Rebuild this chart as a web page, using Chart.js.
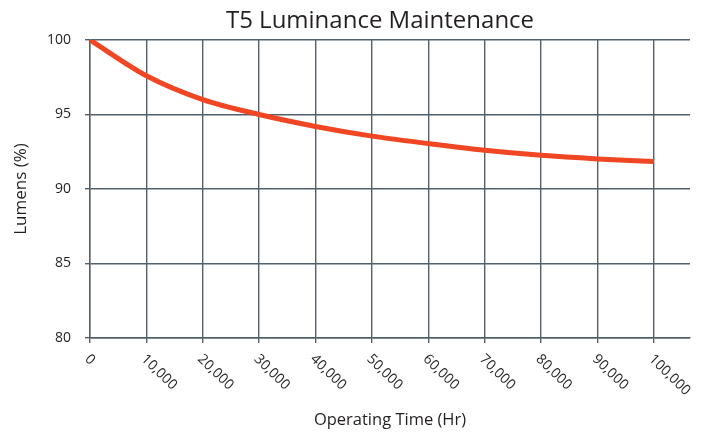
<!DOCTYPE html>
<html>
<head>
<meta charset="utf-8">
<script src="https://cdn.jsdelivr.net/npm/chart.js@4/dist/chart.umd.min.js"></script>
<style>
  html, body { margin: 0; padding: 0; background: #fff; }
  #wrap { width: 703px; height: 432px; }
</style>
</head>
<body>
<div id="wrap"><canvas id="lumen-chart"></canvas></div>
<script>
var hours = [0, 10000, 20000, 30000, 40000, 50000, 60000, 70000, 80000, 90000, 100000];
var lumens = [100, 97.6, 96.0, 95.0, 94.2, 93.55, 93.05, 92.6, 92.26, 92.02, 91.84];
var xTicks = [0, 10000, 20000, 30000, 40000, 50000, 60000, 70000, 80000, 90000, 100000];
var yTicks = [80, 85, 90, 95, 100];

var chartTitle = 'T5 Luminance Maintenance';
var gridColor = '#52606b';
var textColor = '#231f20';
var fontName = '"Open Sans", "Noto Sans", sans-serif';

// title + slanted x labels
var extras = {
    id: 'extras',
    afterDraw: function (chart) {
        var ctx = chart.ctx;
        var area = chart.chartArea;
        var x = chart.scales.x;
        ctx.save();
        ctx.fillStyle = textColor;
        ctx.font = '24px ' + fontName;
        ctx.textAlign = 'center';
        ctx.textBaseline = 'middle';
        ctx.fillText(chartTitle, (area.left + area.right) / 2 - 10, 21);

        ctx.font = '14px ' + fontName;
        ctx.textAlign = 'left';
        x.ticks.forEach(function (t) {
            var px = x.getPixelForValue(t.value);
            ctx.save();
            ctx.translate(px - 3, 357);
            ctx.rotate(44 * Math.PI / 180);
            ctx.fillText(t.value.toLocaleString('en-US'), 0, 0);
            ctx.restore();
        });
        ctx.restore();
    }
};

var ctx1 = document.getElementById('lumen-chart').getContext('2d');
var lumenChart = new Chart(ctx1, {
    type: 'line',
    data: {
        datasets: [{
            label: 'Lumens (%)',
            data: hours.map(function (h, i) { return { x: h, y: lumens[i] }; }),
            borderColor: '#f04623',
            borderWidth: 5,
            pointRadius: 0,
            cubicInterpolationMode: 'monotone',
            fill: false
        }]
    },
    options: {
        responsive: true,
        maintainAspectRatio: false,
        animation: false,
        layout: { padding: { top: 40, right: 13, left: 0, bottom: 0 } },
        plugins: {
            legend: { display: false },
            tooltip: { enabled: false }
        },
        scales: {
            x: {
                type: 'linear',
                min: 0,
                max: 106400,
                afterBuildTicks: function (scale) {
                    scale.ticks = xTicks.map(function (v) { return { value: v }; });
                },
                ticks: { display: false },
                grid: { color: gridColor, lineWidth: 1.4, tickLength: 5 },
                border: { color: gridColor, width: 1.4 },
                title: {
                    display: true,
                    text: 'Operating Time (Hr)',
                    color: textColor,
                    font: { family: fontName, size: 16.5 },
                    padding: { top: 0, bottom: 2 }
                },
                afterFit: function (scale) { scale.height = 94; }
            },
            y: {
                min: 80,
                max: 100,
                afterBuildTicks: function (scale) {
                    scale.ticks = yTicks.map(function (v) { return { value: v }; });
                },
                ticks: {
                    color: textColor,
                    padding: 14,
                    font: { family: fontName, size: 14 }
                },
                grid: { color: gridColor, lineWidth: 1.4, tickLength: 5 },
                border: { color: gridColor, width: 1.4 },
                title: {
                    display: true,
                    text: 'Lumens (%)',
                    color: textColor,
                    font: { family: fontName, size: 17 },
                    padding: { top: 11, bottom: 0 }
                },
                afterFit: function (scale) { scale.width = 90; }
            }
        }
    },
    plugins: [extras]
});
</script>
</body>
</html>
